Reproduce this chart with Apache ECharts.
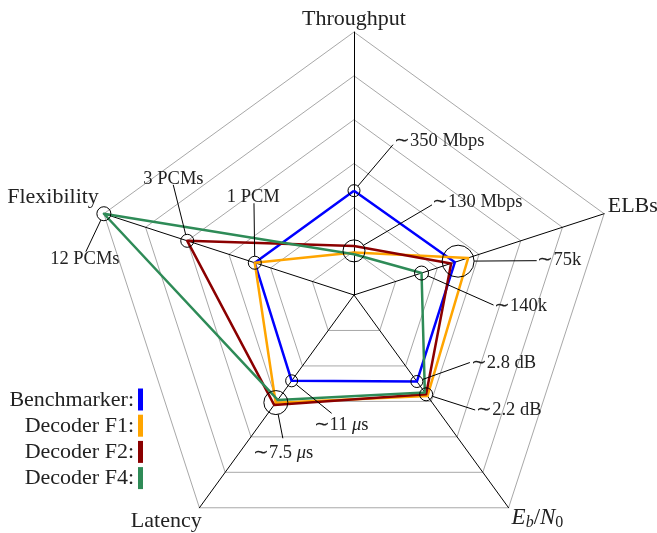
<!DOCTYPE html>
<html><head><meta charset="utf-8">
<script src="https://cdn.jsdelivr.net/npm/echarts@6/dist/echarts.min.js"></script>
<style>html,body{margin:0;padding:0;background:#fff}#c{width:657px;height:533px}</style>
</head><body><div id="c"></div>
<script>
// ---- data (values in grid levels, 0..6) ----
const indicators = ['Throughput', 'Flexibility', 'Latency', 'E_b/N_0', 'ELBs'];
const seriesNames = ['Benchmarker', 'Decoder F1', 'Decoder F2', 'Decoder F4'];
const benchmarker = [2.38, 2.38, 2.42, 2.44, 2.42];
const decoderF1   = [0.97, 2.38, 3.04, 2.85, 2.74];
const decoderF2   = [1.12, 4.00, 3.10, 2.80, 2.33];
const decoderF4   = [0.93, 6.00, 2.96, 2.75, 1.62];
const axisMax = 6;
const ringCount = 6;
const annotationLabels = ['∼350 Mbps', '∼130 Mbps', '∼75k', '∼140k', '∼2.8 dB', '∼2.2 dB', '∼11 μs', '∼7.5 μs', '12 PCMs', '3 PCMs', '1 PCM'];

// ---- styles ----
const colors = ['#0000ff', '#ffa500', '#8b0000', '#2e8b57'];
const FONT = "'Liberation Serif', 'Times New Roman', serif";
const CENTER = [354, 295], RADIUS = 263;
const NOTE_SIZE = 18.5;

const chart = echarts.init(document.getElementById('c'), null, {renderer: 'canvas'});
const allSeries = [benchmarker, decoderF1, decoderF2, decoderF4];

chart.setOption({
  animation: false,
  backgroundColor: '#ffffff',
  radar: {
    center: CENTER,
    radius: RADIUS,
    startAngle: 90,
    splitNumber: ringCount,
    shape: 'polygon',
    indicator: indicators.map(n => ({name: n, min: 0, max: axisMax})),
    axisName: {show: false},
    axisLine: {lineStyle: {color: '#000', width: 1}},
    splitLine: {lineStyle: {color: '#a8a8a8', width: 1}},
    splitArea: {show: false},
    axisTick: {show: false},
    axisLabel: {show: false}
  },
  series: [{
    type: 'radar',
    symbol: 'none',
    z: 3,
    data: allSeries.map((v, k) => ({
      name: seriesNames[k],
      value: v,
      lineStyle: {color: colors[k], width: 2.5},
      itemStyle: {color: colors[k]},
      areaStyle: null
    }))
  }]
});

function pt(v, i) {
  let cs = null;
  try { cs = chart.getModel().getComponent('radar', 0).coordinateSystem; } catch (e) {}
  if (cs && cs.dataToPoint) {
    const p = cs.dataToPoint(v, i);
    if (p && isFinite(p[0])) return p;
  }
  const ang = Math.PI / 2 + 2 * Math.PI * i / indicators.length;
  const r = RADIUS * v / axisMax;
  return [CENTER[0] + r * Math.cos(ang), CENTER[1] - r * Math.sin(ang)];
}
const mean = (arrs, i) => arrs.reduce((s, a) => s + a[i], 0) / arrs.length;
const decoders = [decoderF1, decoderF2, decoderF4];

const g = [];
const txt = (x, y, text, size, align, vAlign, extra) => g.push({
  type: 'text', x: x, y: y, z: 10,
  style: Object.assign({text: text, fontFamily: FONT, fontSize: size, fill: '#222',
    align: align, verticalAlign: vAlign}, extra || {})
});

// axis names
const nameOff = [[0, -12.4, 'center'], [-5, -16.4, 'right'], [2.3, 13.8, 'right'], [3, 10, 'left'], [3.6, -7.4, 'left']];
indicators.forEach((n, i) => {
  const p = pt(axisMax, i);
  const o = nameOff[i];
  if (n === 'E_b/N_0') {
    txt(p[0] + o[0], p[1] + o[1], '{i|E}{s|b}{r|/}{i|N}{s0|0}', 23, o[2], 'middle', {
      rich: {
        i: {fontStyle: 'italic', fontSize: 23, fontFamily: FONT, lineHeight: 27, fill: '#222'},
        r: {fontSize: 23, fontFamily: FONT, lineHeight: 27, fill: '#222'},
        s: {fontStyle: 'italic', fontSize: 16, fontFamily: FONT, lineHeight: 12, verticalAlign: 'bottom', fill: '#222'},
        s0: {fontSize: 16, fontFamily: FONT, lineHeight: 12, verticalAlign: 'bottom', fill: '#222'}
      }
    });
  } else {
    txt(p[0] + o[0], p[1] + o[1], n, 22, o[2], 'middle');
  }
});

// annotations: circle at a data location, leader line, label
const notes = [
  {axis: 0, value: benchmarker[0],        r: 6,   end: [39, -46],   tp: [40, -50],    al: 'left'},
  {axis: 0, value: mean(decoders, 0),     r: 11,  end: [78, -46],   tp: [78, -48.5],  al: 'left'},
  {axis: 4, value: mean([benchmarker, decoderF1, decoderF2], 4), r: 16, end: [78.6, -0.5], tp: [79.4, -1.2], al: 'left'},
  {axis: 4, value: decoderF4[4],          r: 7,   end: [72, 32],    tp: [72.5, 33],   al: 'left'},
  {axis: 3, value: benchmarker[3],        r: 6,   end: [53, -19],   tp: [54, -18.5],  al: 'left'},
  {axis: 3, value: mean(decoders, 3),     r: 6.5, end: [49, 15.7],  tp: [50, 15.7],   al: 'left'},
  {axis: 2, value: benchmarker[2],        r: 6,   end: [40, 32.5],  tp: [49.4, 44],   al: 'center'},
  {axis: 2, value: mean(decoders, 2),     r: 12,  end: [7, 35.7],   tp: [7.2, 50.4],  al: 'center'},
  {axis: 1, value: decoderF4[1],          r: 7,   end: [-18, 38],   tp: [-19, 45],    al: 'center'},
  {axis: 1, value: decoderF2[1],          r: 6.5, end: [-14, -56],  tp: [-13.8, -61.8], al: 'center'},
  {axis: 1, value: benchmarker[1],        r: 6.5, end: [-0.8, -59.5], tp: [-1.5, -65.8], al: 'center'}
];
notes.forEach((n, k) => {
  const p = pt(n.value, n.axis);
  g.push({type: 'circle', z: 9, shape: {cx: p[0], cy: p[1], r: n.r},
    style: {fill: 'none', stroke: '#000', lineWidth: 1}});
  const len = Math.hypot(n.end[0], n.end[1]);
  const ux = n.end[0] / len, uy = n.end[1] / len;
  g.push({type: 'line', z: 9, shape: {x1: p[0] + ux * n.r, y1: p[1] + uy * n.r, x2: p[0] + n.end[0], y2: p[1] + n.end[1]},
    style: {stroke: '#000', lineWidth: 1}});
  const label = annotationLabels[k];
  if (label.indexOf('μ') >= 0) {
    const parts = label.split('μ');
    txt(p[0] + n.tp[0], p[1] + n.tp[1], '{t|' + parts[0] + '}{m|μ}{t|' + parts[1] + '}', NOTE_SIZE, n.al, 'middle', {
      rich: {
        t: {fontSize: NOTE_SIZE, fontFamily: FONT, fill: '#222'},
        m: {fontSize: NOTE_SIZE, fontFamily: FONT, fontStyle: 'italic', fill: '#222'}
      }
    });
  } else {
    txt(p[0] + n.tp[0], p[1] + n.tp[1], label, NOTE_SIZE, n.al, 'middle');
  }
});

// legend
seriesNames.forEach((name, k) => {
  const cy = 400 + k * 26.2;
  txt(134, cy, name + ':', 22, 'right', 'middle');
  g.push({type: 'rect', z: 10, shape: {x: 138, y: cy - 11.5, width: 5, height: 22},
    style: {fill: colors[k]}});
});

chart.setOption({graphic: g});
</script>
</body></html>
